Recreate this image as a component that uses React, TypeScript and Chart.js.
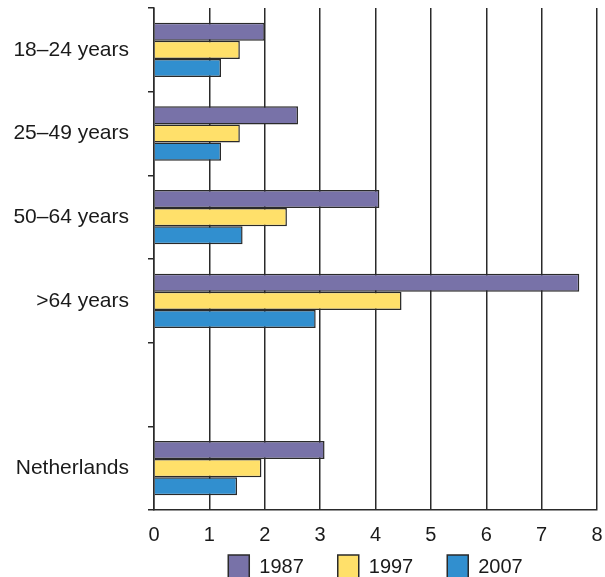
import React, { useEffect, useRef } from "react";
import { Chart, registerables } from "chart.js";

Chart.register(...registerables);

const categories = ["18–24 years", "25–49 years", "50–64 years", ">64 years", "", "Netherlands"];
const series1987 = [2.0, 2.6, 4.07, 7.68, null, 3.08];
const series1997 = [1.55, 1.55, 2.4, 4.47, null, 1.94];
const series2007 = [1.21, 1.21, 1.6, 2.92, null, 1.5];
const seriesLabels = ["1987", "1997", "2007"];
const xTicks = [0, 1, 2, 3, 4, 5, 6, 7, 8];

const FONT = "'Liberation Sans', Arial, sans-serif";

export default function App() {
  const ref = useRef<HTMLCanvasElement | null>(null);
  useEffect(() => {
    if (!ref.current) return;
    const chart = new Chart(ref.current, {
      type: "bar",
      data: {
        labels: categories,
        datasets: [
          { label: seriesLabels[0], data: series1987, backgroundColor: "#7872A8", borderColor: "#2a2a2a", borderWidth: 1.5 },
          { label: seriesLabels[1], data: series1997, backgroundColor: "#FFE06A", borderColor: "#2a2a2a", borderWidth: 1.5 },
          { label: seriesLabels[2], data: series2007, backgroundColor: "#318FCF", borderColor: "#2a2a2a", borderWidth: 1.5 },
        ],
      },
      options: {
        indexAxis: "y",
        animation: false,
        responsive: false,
        maintainAspectRatio: false,
        categoryPercentage: 0.65,
        barPercentage: 1.0,
        layout: { padding: { left: 0, right: 8, top: 8, bottom: -12 } },
        plugins: {
          legend: {
            position: "bottom",
            fullSize: false,
            labels: {
              boxWidth: 21,
              boxHeight: 24,
              color: "#1a1a1a",
              padding: 34,
              font: { family: FONT, size: 20 },
            },
          },
          tooltip: { enabled: false },
        },
        scales: {
          x: {
            min: 0,
            max: 8,
            afterBuildTicks: (scale: any) => {
              scale.ticks = xTicks.map((v) => ({ value: v }));
            },
            afterFit: (scale: any) => {
              scale.height = 11;
              scale.paddingRight = 0;
              scale.paddingLeft = 0;
              scale._computeLabelArea = () => undefined;
            },
            grid: { color: "#2a2a2a", lineWidth: 1.5, drawTicks: false },
            border: { color: "#2a2a2a", width: 1.5 },
            ticks: { color: "#1a1a1a", padding: 13, font: { family: FONT, size: 20 } },
          },
          y: {
            afterFit: (scale: any) => {
              scale.width = 154;
              scale.paddingTop = 0;
              scale.paddingBottom = 0;
            },
            grid: { color: "#2a2a2a", lineWidth: 1.5, drawOnChartArea: false, drawTicks: true, tickLength: 6, offset: true },
            border: { color: "#2a2a2a", width: 1.5 },
            ticks: { color: "#1a1a1a", padding: 19, font: { family: FONT, size: 21 } },
          },
        },
      },
    });
    return () => chart.destroy();
  }, []);
  return (
    <div style={{ position: "fixed", left: 0, top: 0, width: 605, height: 577, background: "#fff" }}>
      <canvas ref={ref} width={605} height={577} style={{ width: 605, height: 577 }} />
    </div>
  );
}
